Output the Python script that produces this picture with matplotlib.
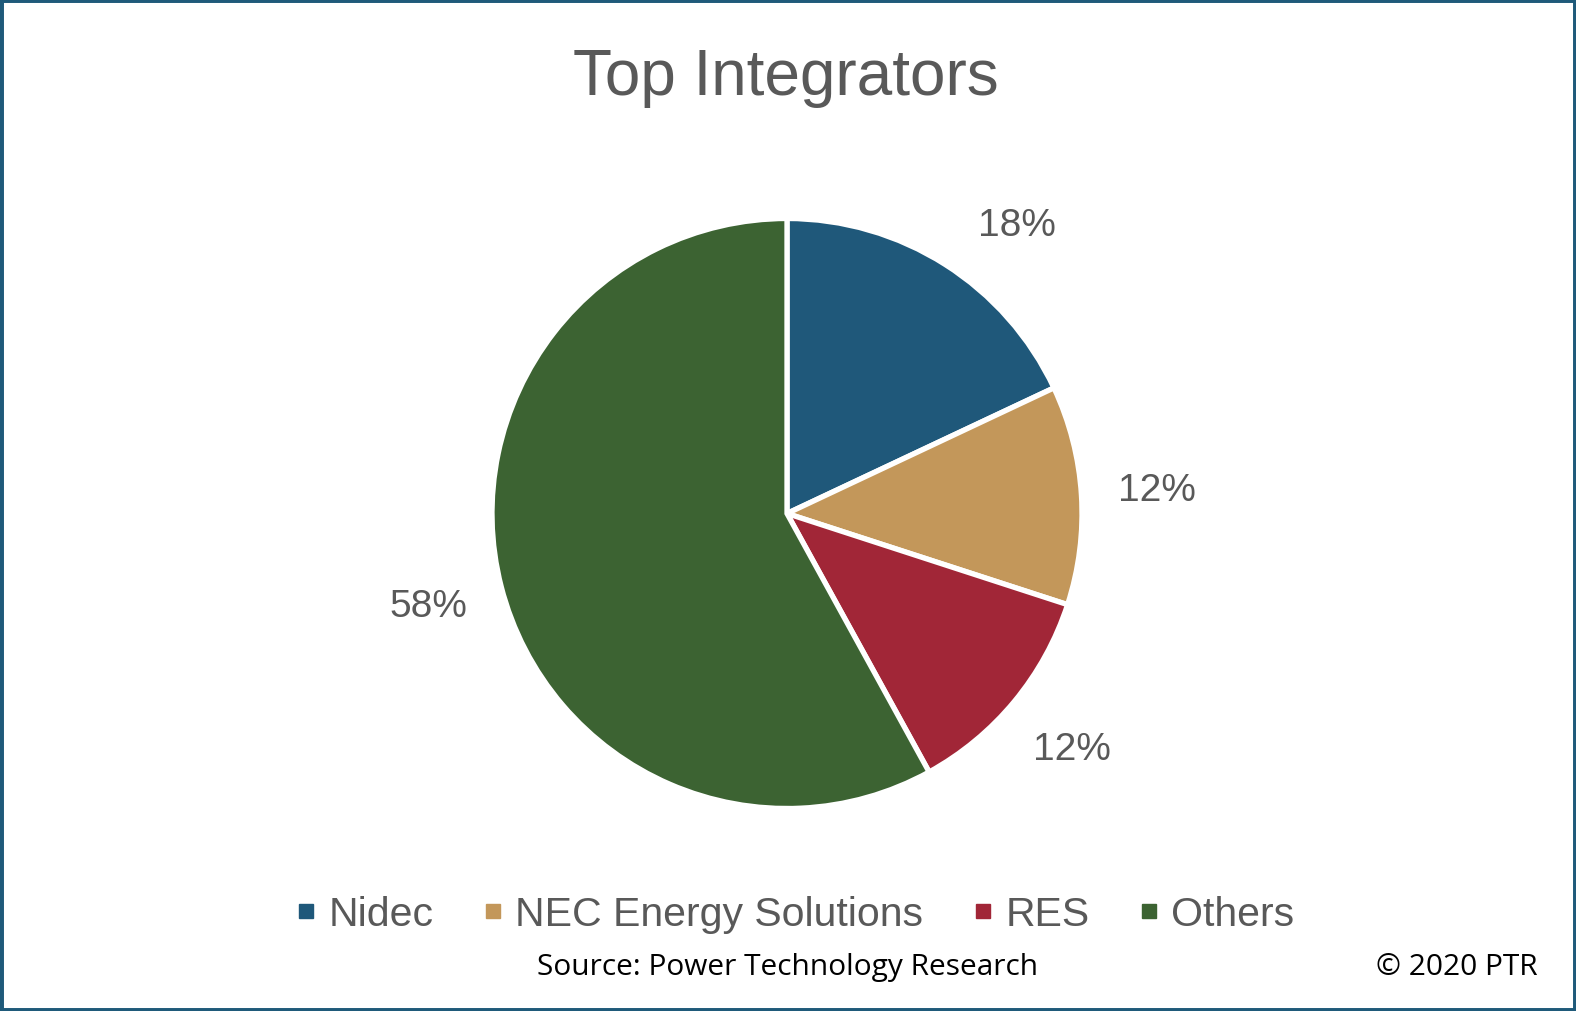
import matplotlib
matplotlib.use("Agg")
import matplotlib.pyplot as plt
from matplotlib.patches import Rectangle
from matplotlib.lines import Line2D
import numpy as np

categories = ["Nidec", "NEC Energy Solutions", "RES", "Others"]
shares = [18, 12, 12, 58]
colors = ["#1F587A", "#C3975A", "#A12637", "#3C6332"]
title = "Top Integrators"
source = "Source: Power Technology Research"
copyright_text = "\u00a9 2020 PTR"

W, H = 1576, 1012
fig = plt.figure(figsize=(W / 100, H / 100), dpi=100)
fig.patch.set_facecolor("white")

# pie axes geometry (pixels)
cx, cy, R, half = 787, 514.5, 295, 330
ax = fig.add_axes([(cx - half) / W, (H - cy - half) / H, 2 * half / W, 2 * half / H])

wedges, texts, autotexts = ax.pie(
    shares, colors=colors, startangle=90, counterclock=False,
    autopct=lambda p: f"{p:.0f}%", pctdistance=1.255,
    wedgeprops=dict(edgecolor="white", linewidth=3.8),
    textprops=dict(fontsize=28, color="#595959", family="Liberation Sans"),
)
ax.set_xlim(-half / R, half / R)
ax.set_ylim(-half / R, half / R)
ax.set_aspect("equal")
ax.axis("off")
# Nidec label sits a bit lower (best-fit placement)
ang = np.deg2rad(51.5)
autotexts[0].set_position((1.25 * np.cos(ang), 1.25 * np.sin(ang)))

fig.text(786 / W, 1 - 78 / H, title, ha="center", va="center",
         fontsize=46, color="#595959", family="Liberation Sans")

handles = [Line2D([], [], marker="s", linestyle="none", markersize=9.5,
                  markerfacecolor=c, markeredgecolor=c) for c in colors]
leg = fig.legend(handles, categories, loc="center", bbox_to_anchor=(797 / W, 1 - 915 / H),
                 ncol=4, frameon=False, handlelength=0.3,
                 handletextpad=0.4, columnspacing=1.3,
                 prop=dict(family="Liberation Sans", size=29.5))
for t in leg.get_texts():
    t.set_color("#595959")

fig.text(788 / W, 1 - 968 / H, source, ha="center", va="center",
         fontsize=21.5, color="black", family="Open Sans")
fig.text(1538 / W, 1 - 968 / H, copyright_text, ha="right", va="center",
         fontsize=21.5, color="black", family="Open Sans")

fig.patches.append(Rectangle((0, 0), 1, 1, transform=fig.transFigure, fill=False,
                             edgecolor="#1F5A7A", linewidth=5, zorder=10))

fig.savefig("out.png", dpi=100)
